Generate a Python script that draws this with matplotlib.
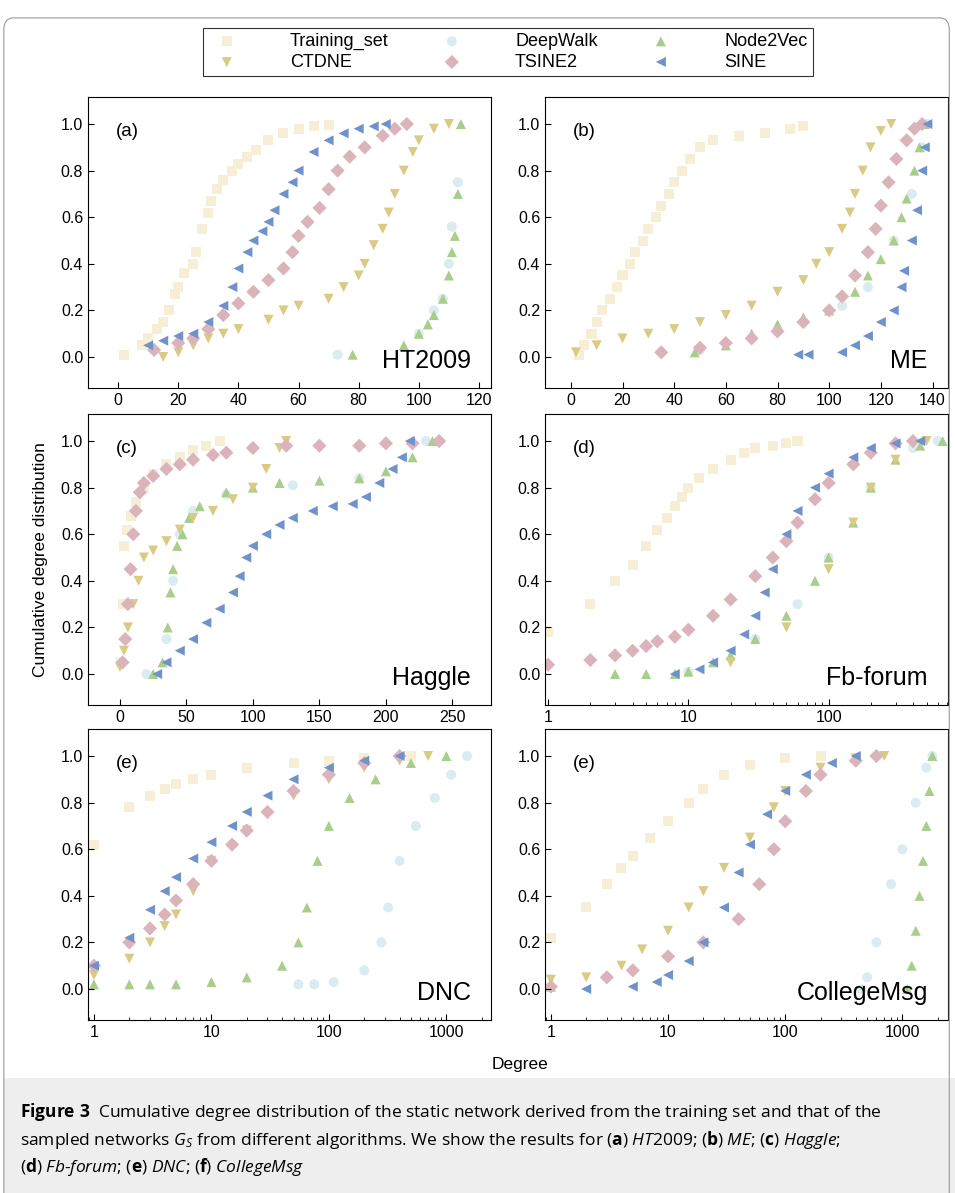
import numpy as np
import matplotlib.pyplot as plt
from matplotlib.patches import FancyBboxPatch, Rectangle

plt.rcParams['font.family'] = ['Liberation Sans', 'DejaVu Sans']
plt.rcParams['mathtext.fontset'] = 'custom'
plt.rcParams['mathtext.rm'] = 'Open Sans'
plt.rcParams['mathtext.it'] = 'Open Sans:italic'
plt.rcParams['mathtext.bf'] = 'Open Sans:bold'

names = ['Training_set', 'DeepWalk', 'Node2Vec', 'CTDNE', 'TSINE2', 'SINE']
colors = ['#f6efd6', '#d9edf1', '#a9cd8a', '#d9ca84', '#dbb4bb', '#7092cb']
markers = ['s', 'o', '^', 'v', 'D', '<']

# each panel: dict of series name -> (x list, y list)
ht2009 = {
    'Training_set': ([2, 8, 10, 13, 15, 17, 19, 20, 22, 25, 26, 28, 30, 31, 33, 35, 38, 40, 43, 46, 50, 55, 60, 65, 70],
                     [0.01, 0.05, 0.08, 0.12, 0.15, 0.2, 0.27, 0.3, 0.36, 0.4, 0.45, 0.55, 0.62, 0.67, 0.72, 0.76, 0.8, 0.83, 0.86, 0.89, 0.93, 0.96, 0.98, 0.99, 0.995]),
    'DeepWalk': ([73, 100, 105, 108, 110, 111, 113], [0.01, 0.1, 0.2, 0.25, 0.4, 0.56, 0.75]),
    'Node2Vec': ([78, 95, 100, 103, 105, 108, 110, 111, 112, 113, 114], [0.01, 0.05, 0.1, 0.14, 0.18, 0.25, 0.35, 0.45, 0.52, 0.7, 1.0]),
    'CTDNE': ([15, 20, 25, 30, 35, 40, 50, 55, 60, 70, 75, 80, 82, 85, 88, 90, 92, 95, 98, 100, 105, 110],
              [0.0, 0.02, 0.05, 0.08, 0.1, 0.12, 0.16, 0.2, 0.22, 0.25, 0.3, 0.35, 0.4, 0.48, 0.55, 0.62, 0.7, 0.8, 0.88, 0.93, 0.98, 1.0]),
    'TSINE2': ([12, 20, 25, 30, 35, 40, 45, 50, 55, 58, 60, 63, 67, 70, 73, 77, 82, 88, 92, 96],
               [0.03, 0.06, 0.08, 0.12, 0.18, 0.23, 0.28, 0.33, 0.38, 0.45, 0.52, 0.58, 0.64, 0.72, 0.8, 0.86, 0.9, 0.95, 0.98, 1.0]),
    'SINE': ([10, 15, 20, 25, 30, 35, 38, 40, 43, 45, 48, 50, 52, 55, 58, 60, 65, 70, 75, 80, 85, 89],
             [0.05, 0.07, 0.09, 0.1, 0.15, 0.22, 0.3, 0.38, 0.45, 0.5, 0.54, 0.58, 0.63, 0.7, 0.75, 0.8, 0.88, 0.93, 0.96, 0.98, 0.99, 1.0]),
}
me = {
    'Training_set': ([3, 5, 8, 10, 12, 15, 18, 20, 23, 25, 28, 30, 33, 35, 38, 40, 43, 46, 50, 55, 65, 75, 85, 90],
                     [0.01, 0.05, 0.1, 0.15, 0.2, 0.25, 0.3, 0.35, 0.4, 0.45, 0.5, 0.55, 0.6, 0.65, 0.7, 0.75, 0.8, 0.85, 0.9, 0.93, 0.95, 0.96, 0.98, 0.99]),
    'DeepWalk': ([50, 70, 90, 105, 115, 125, 132, 136, 138], [0.03, 0.08, 0.15, 0.22, 0.3, 0.5, 0.7, 0.9, 1.0]),
    'Node2Vec': ([48, 60, 70, 80, 90, 100, 110, 115, 120, 125, 128, 130, 133, 135, 137],
                 [0.02, 0.05, 0.1, 0.14, 0.17, 0.2, 0.28, 0.35, 0.42, 0.5, 0.6, 0.68, 0.8, 0.9, 1.0]),
    'CTDNE': ([2, 10, 20, 30, 40, 50, 60, 70, 80, 90, 95, 100, 105, 108, 110, 113, 116, 120, 124],
              [0.02, 0.05, 0.08, 0.1, 0.12, 0.15, 0.18, 0.22, 0.28, 0.33, 0.4, 0.45, 0.55, 0.62, 0.7, 0.8, 0.9, 0.97, 1.0]),
    'TSINE2': ([35, 50, 60, 70, 80, 90, 100, 105, 110, 115, 118, 120, 123, 126, 130, 133, 136],
               [0.02, 0.04, 0.06, 0.08, 0.11, 0.15, 0.2, 0.26, 0.35, 0.45, 0.55, 0.65, 0.75, 0.85, 0.93, 0.98, 1.0]),
    'SINE': ([88, 92, 105, 110, 115, 120, 125, 128, 129, 132, 134, 136, 137, 138],
             [0.01, 0.01, 0.02, 0.05, 0.09, 0.15, 0.2, 0.3, 0.37, 0.5, 0.63, 0.8, 0.9, 1.0]),
}
haggle = {
    'Training_set': ([1, 2, 3, 5, 8, 12, 18, 25, 35, 45, 55, 65, 75],
                     [0.05, 0.3, 0.55, 0.62, 0.68, 0.74, 0.8, 0.86, 0.9, 0.93, 0.96, 0.98, 1.0]),
    'DeepWalk': ([20, 35, 40, 45, 55, 80, 130, 180, 230], [0.0, 0.15, 0.4, 0.6, 0.7, 0.77, 0.81, 0.84, 1.0]),
    'Node2Vec': ([25, 32, 36, 38, 40, 43, 47, 52, 60, 80, 100, 120, 150, 180, 200, 220, 235],
                 [0.0, 0.05, 0.2, 0.35, 0.45, 0.55, 0.6, 0.67, 0.72, 0.78, 0.8, 0.82, 0.83, 0.84, 0.87, 0.93, 1.0]),
    'CTDNE': ([0, 3, 6, 10, 14, 18, 25, 35, 45, 55, 70, 85, 100, 110, 120, 125],
              [0.03, 0.1, 0.2, 0.3, 0.4, 0.5, 0.53, 0.57, 0.62, 0.67, 0.7, 0.75, 0.8, 0.88, 0.97, 1.0]),
    'TSINE2': ([2, 4, 6, 8, 10, 12, 15, 18, 25, 35, 45, 55, 70, 80, 100, 125, 150, 180, 200, 220, 240],
               [0.05, 0.15, 0.3, 0.45, 0.6, 0.7, 0.78, 0.82, 0.85, 0.88, 0.9, 0.92, 0.94, 0.95, 0.97, 0.98, 0.98, 0.98, 0.99, 0.99, 1.0]),
    'SINE': ([28, 35, 45, 55, 65, 75, 85, 90, 95, 100, 110, 120, 130, 145, 160, 175, 185, 195, 205, 212, 218],
             [0.0, 0.05, 0.1, 0.15, 0.22, 0.28, 0.35, 0.42, 0.5, 0.55, 0.6, 0.64, 0.67, 0.7, 0.72, 0.73, 0.76, 0.82, 0.88, 0.93, 1.0]),
}
fbforum = {
    'Training_set': ([1, 2, 3, 4, 5, 6, 7, 8, 9, 10, 12, 15, 20, 25, 30, 40, 50, 60],
                     [0.18, 0.3, 0.4, 0.47, 0.55, 0.62, 0.67, 0.72, 0.76, 0.8, 0.84, 0.88, 0.92, 0.95, 0.97, 0.98, 0.99, 1.0]),
    'DeepWalk': ([10, 30, 60, 100, 200, 400, 600], [0.01, 0.15, 0.3, 0.5, 0.8, 0.97, 1.0]),
    'Node2Vec': ([3, 5, 8, 10, 15, 20, 30, 50, 80, 100, 150, 200, 300, 450, 650],
                 [0.0, 0.0, 0.0, 0.01, 0.05, 0.08, 0.15, 0.25, 0.4, 0.5, 0.65, 0.8, 0.92, 0.98, 1.0]),
    'CTDNE': ([20, 50, 100, 150, 200, 300, 500], [0.05, 0.2, 0.45, 0.65, 0.8, 0.92, 1.0]),
    'TSINE2': ([1, 2, 3, 4, 5, 6, 8, 10, 15, 20, 30, 40, 50, 60, 80, 100, 150, 200, 300, 400],
               [0.04, 0.06, 0.08, 0.1, 0.12, 0.14, 0.16, 0.19, 0.25, 0.32, 0.42, 0.5, 0.57, 0.65, 0.75, 0.82, 0.9, 0.95, 0.99, 1.0]),
    'SINE': ([8, 12, 15, 20, 25, 30, 35, 40, 50, 60, 80, 100, 150, 200, 300, 450],
             [0.0, 0.02, 0.05, 0.1, 0.17, 0.25, 0.35, 0.45, 0.6, 0.7, 0.8, 0.86, 0.93, 0.97, 0.99, 1.0]),
}
dnc = {
    'Training_set': ([1, 2, 3, 4, 5, 7, 10, 20, 50, 100, 200, 500],
                     [0.62, 0.78, 0.83, 0.86, 0.88, 0.9, 0.92, 0.95, 0.97, 0.98, 0.99, 1.0]),
    'DeepWalk': ([55, 75, 110, 200, 280, 320, 400, 550, 800, 1100, 1500],
                 [0.02, 0.02, 0.03, 0.08, 0.2, 0.35, 0.55, 0.7, 0.82, 0.92, 1.0]),
    'Node2Vec': ([1, 2, 3, 5, 10, 20, 40, 55, 65, 80, 100, 150, 250, 500, 1000],
                 [0.02, 0.02, 0.02, 0.02, 0.03, 0.05, 0.1, 0.2, 0.35, 0.55, 0.7, 0.82, 0.9, 0.97, 1.0]),
    'CTDNE': ([1, 2, 3, 4, 5, 7, 10, 20, 30, 50, 100, 200, 400, 700],
              [0.06, 0.13, 0.2, 0.27, 0.32, 0.42, 0.55, 0.68, 0.75, 0.83, 0.9, 0.95, 0.98, 1.0]),
    'TSINE2': ([1, 2, 3, 4, 5, 7, 10, 15, 20, 30, 50, 100, 200, 400],
               [0.1, 0.2, 0.26, 0.32, 0.38, 0.45, 0.55, 0.62, 0.68, 0.76, 0.85, 0.92, 0.97, 1.0]),
    'SINE': ([1, 2, 3, 4, 5, 7, 10, 15, 20, 30, 50, 100, 200, 400],
             [0.1, 0.22, 0.34, 0.42, 0.48, 0.56, 0.63, 0.7, 0.76, 0.83, 0.9, 0.95, 0.98, 1.0]),
}
collegemsg = {
    'Training_set': ([1, 2, 3, 4, 5, 7, 10, 15, 20, 30, 50, 100, 200],
                     [0.22, 0.35, 0.45, 0.52, 0.57, 0.65, 0.72, 0.8, 0.86, 0.92, 0.96, 0.99, 1.0]),
    'DeepWalk': ([450, 500, 600, 800, 1000, 1300, 1600, 1800], [0.0, 0.05, 0.2, 0.45, 0.6, 0.8, 0.95, 1.0]),
    'Node2Vec': ([1, 1100, 1200, 1300, 1400, 1500, 1600, 1700, 1800],
                 [0.01, 0.0, 0.1, 0.25, 0.4, 0.55, 0.7, 0.85, 1.0]),
    'CTDNE': ([1, 2, 4, 6, 10, 15, 20, 30, 50, 80, 100, 200, 400, 700],
              [0.04, 0.05, 0.1, 0.17, 0.25, 0.35, 0.42, 0.52, 0.65, 0.78, 0.85, 0.95, 0.99, 1.0]),
    'TSINE2': ([1, 3, 5, 10, 20, 40, 60, 80, 100, 150, 200, 400, 600],
               [0.01, 0.05, 0.08, 0.14, 0.2, 0.3, 0.45, 0.6, 0.72, 0.85, 0.92, 0.98, 1.0]),
    'SINE': ([2, 5, 8, 10, 15, 20, 30, 40, 50, 70, 100, 150, 250, 400],
             [0.0, 0.01, 0.03, 0.06, 0.12, 0.2, 0.35, 0.5, 0.62, 0.75, 0.85, 0.92, 0.97, 1.0]),
}

panels = [
    ('(a)', 'HT2009', ht2009, False, (-10, 124), [0, 20, 40, 60, 80, 100, 120]),
    ('(b)', 'ME', me, False, (-10, 146), [0, 20, 40, 60, 80, 100, 120, 140]),
    ('(c)', 'Haggle', haggle, False, (-24, 279), [0, 50, 100, 150, 200, 250]),
    ('(d)', 'Fb-forum', fbforum, True, (0.95, 710), [1, 10, 100]),
    ('(e)', 'DNC', dnc, True, (0.89, 2400), [1, 10, 100, 1000]),
    ('(e)', 'CollegeMsg', collegemsg, True, (0.89, 2450), [1, 10, 100, 1000]),
]

fig = plt.figure(figsize=(9.55, 11.93), dpi=100)

# outer frame and caption background
fig.patches.append(FancyBboxPatch((0.004, -0.02), 0.99, 1.005, boxstyle='round,pad=0,rounding_size=0.01',
                                  transform=fig.transFigure, fill=False, edgecolor='#999999', lw=0.8))
fig.patches.append(Rectangle((0.004, 0.0), 0.996, 1 - 1078 / 1193, transform=fig.transFigure,
                             facecolor='#eeeeee', edgecolor='none', zorder=-1))

lefts = [88 / 955, 545 / 955]
bottoms = [1 - 388 / 1193, 1 - 705 / 1193, 1 - 1020 / 1193]
w, h = 403 / 955, 291 / 1193

handles = {}
for i, (tag, title, data, logx, xlim, xticks) in enumerate(panels):
    ax = fig.add_axes([lefts[i % 2], bottoms[i // 2], w, h])
    for name, c, m in zip(names, colors, markers):
        x, y = data[name]
        handles[name] = ax.scatter(x, y, s=52, marker=m, color=c, edgecolors='none', label=name)
    if logx:
        ax.set_xscale('log')
        ax.set_xticks(xticks)
        ax.set_xticklabels([str(t) for t in xticks])
    else:
        ax.set_xticks(xticks)
    ax.set_xlim(xlim)
    ax.set_ylim(-0.133, 1.116)
    ax.set_yticks([0, 0.2, 0.4, 0.6, 0.8, 1.0])
    ax.set_yticklabels(['0.0', '0.2', '0.4', '0.6', '0.8', '1.0'])
    ax.tick_params(direction='in', labelsize=11.5, length=4, which='major')
    ax.tick_params(direction='in', which='minor', length=2)
    ax.text(0.07, 0.91, tag, transform=ax.transAxes, fontsize=13.5, va='top')
    ax.text(0.95, 0.05, title, transform=ax.transAxes, fontsize=18, ha='right', va='bottom')

# matplotlib fills legend columns first; reorder so rows read like the reference
order = ['Training_set', 'CTDNE', 'DeepWalk', 'TSINE2', 'Node2Vec', 'SINE']
leg = fig.legend([handles[n] for n in order], order, loc='center', bbox_to_anchor=(508 / 955, 1 - 52 / 1193),
                 ncol=3, fontsize=13, frameon=True, fancybox=False, edgecolor='black',
                 columnspacing=2.5, handletextpad=2.5, borderpad=0.3, labelspacing=0.2, borderaxespad=0)
leg.get_frame().set_linewidth(0.8)

fig.text(40 / 955, 1 - 560 / 1193, 'Cumulative degree distribution', rotation=90, ha='center', va='center', fontsize=12.5)
fig.text(520 / 955, 1 - 1065 / 1193, 'Degree', ha='center', va='center', fontsize=12.5)

cap = dict(family=['Open Sans', 'DejaVu Sans'], fontsize=12.5)
fig.text(20 / 955, 1 - 1112 / 1193,
         r'$\bf{Figure\ 3}$  Cumulative degree distribution of the static network derived from the training set and that of the',
         va='center', **cap)
fig.text(20 / 955, 1 - 1140 / 1193,
         r'sampled networks $G_S$ from different algorithms. We show the results for ($\bf{a}$) $HT2009$; ($\bf{b}$) $ME$; ($\bf{c}$) $Haggle$;',
         va='center', **cap)
fig.text(20 / 955, 1 - 1167 / 1193,
         r'($\bf{d}$) $Fb$-$forum$; ($\bf{e}$) $DNC$; ($\bf{f}$) $CollegeMsg$',
         va='center', **cap)

fig.savefig('out.png', dpi=100)
